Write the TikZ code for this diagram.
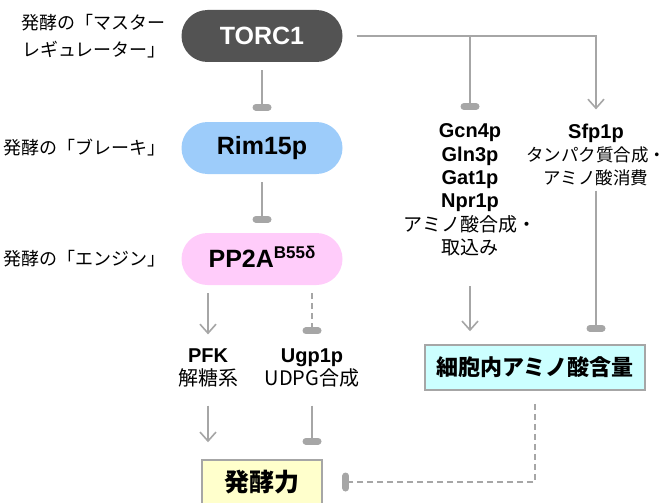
\documentclass[tikz,border=0pt]{standalone}
\usepackage{fontspec}
\setmainfont{Liberation Sans}
\newfontfamily\jp{Noto Sans CJK JP}
\usetikzlibrary{arrows.meta,calc}
\definecolor{lg}{RGB}{166,166,166}
\definecolor{torcgray}{RGB}{83,83,83}
\definecolor{rimblue}{RGB}{157,204,250}
\definecolor{pppink}{RGB}{255,204,250}
\definecolor{boxyellow}{RGB}{255,255,204}
\definecolor{boxcyan}{RGB}{204,255,255}
\begin{document}
\begin{tikzpicture}[x=1pt,y=-1pt,
  conn/.style={draw=lg, line width=2pt},
  arr/.style={conn, -{Straight Barb[length=9pt,width=16pt,line width=1.6pt]}},
  tee/.style={conn, -{Bar[width=12pt,line width=7pt,round]}},
  dsh/.style={dash pattern=on 6pt off 4pt},
  pill/.style={rounded corners=26pt, minimum width=161pt, minimum height=52pt,
    font=\bfseries\fontsize{25}{25}\selectfont, inner sep=0pt},
  lbl/.style={anchor=east, align=right, inner sep=0pt, font=\jp\fontsize{18}{27}\selectfont},
  gene/.style={align=center, inner sep=0pt, font=\fontsize{20}{23.4}\selectfont},
  sqbox/.style={draw=lg, line width=1.5pt, inner sep=0pt},
]
\useasboundingbox (0,0) rectangle (669,503);

% main pills
\node[pill, fill=torcgray, text=white] (torc) at (262,36) {TORC1};
\node[pill, fill=rimblue] (rim) at (262,148) {Rim15p};
\node[pill, fill=pppink] (pp2a) at (262,259) {PP2A\smash{\raisebox{9pt}{\fontsize{17}{17}\selectfont B55δ}}};

% left labels
\node[lbl] (l1) at (166,36) {発酵の「マスター\\レギュレーター」};
\node[lbl] (l2) at (166,148) {発酵の「ブレーキ」};
\node[lbl] (l3) at (166,259) {発酵の「エンジン」};

% middle column
\node[gene] (pfk) at (208,368) {\textbf{PFK}\\{\jp\fontsize{20}{23}\selectfont 解糖系}};
\node[gene] (ugp) at (312,368) {\textbf{Ugp1p}\\{\jp\fontsize{20}{23}\selectfont UDPG合成}};
\node[sqbox, fill=boxyellow, minimum width=120pt, minimum height=44pt,
  font=\jp\bfseries\fontsize{25}{25}\selectfont] (hakko) at (262,482) {発酵力};

% right column
\node[gene] (gcn) at (470,190) {\textbf{Gcn4p}\\\textbf{Gln3p}\\\textbf{Gat1p}\\\textbf{Npr1p}\\{\jp\fontsize{19}{23.4}\selectfont アミノ酸合成・}\\{\jp\fontsize{19}{23.4}\selectfont 取込み}};
\node[gene] (sfp) at (596,155) {\textbf{Sfp1p}\\{\jp\fontsize{17.5}{23.4}\selectfont タンパク質合成・}\\{\jp\fontsize{17.5}{23.4}\selectfont アミノ酸消費}};
\node[sqbox, fill=boxcyan, minimum width=220pt, minimum height=45pt,
  font=\jp\bfseries\fontsize{22}{22}\selectfont] (amino) at (535,367.5) {細胞内アミノ酸含量};

% connectors
\draw[tee, shorten <=8pt, shorten >=11pt] (torc) -- (rim);
\draw[tee, shorten <=8pt, shorten >=10pt] (rim) -- (pp2a);
\draw[arr, shorten <=8pt, shorten >=14pt] (pp2a.south -| pfk.north) -- (pfk.north);
\draw[tee, dsh, shorten <=8pt, shorten >=14pt] (pp2a.south -| ugp.north) -- (ugp.north);
\draw[arr, shorten <=18pt, shorten >=17pt] (pfk.south) -- (pfk.south |- hakko.north);
\draw[tee, shorten <=18pt, shorten >=14.5pt] (ugp.south) -- (ugp.south |- hakko.north);
\draw[tee, shorten <=14pt, shorten >=13.5pt] (torc.east) -| (gcn.north);
\draw[arr, shorten <=14pt, shorten >=14pt] (torc.east) -| (sfp.north);
\draw[arr, shorten <=30pt, shorten >=13pt] (gcn.south) -- (gcn.south |- amino.north);
\draw[tee, shorten <=4pt, shorten >=12.5pt] (sfp.south) -- (sfp.south |- amino.north);
\draw[tee, dsh, shorten <=13pt, shorten >=19.5pt] (amino.south) |- (hakko.east);
\end{tikzpicture}
\end{document}
